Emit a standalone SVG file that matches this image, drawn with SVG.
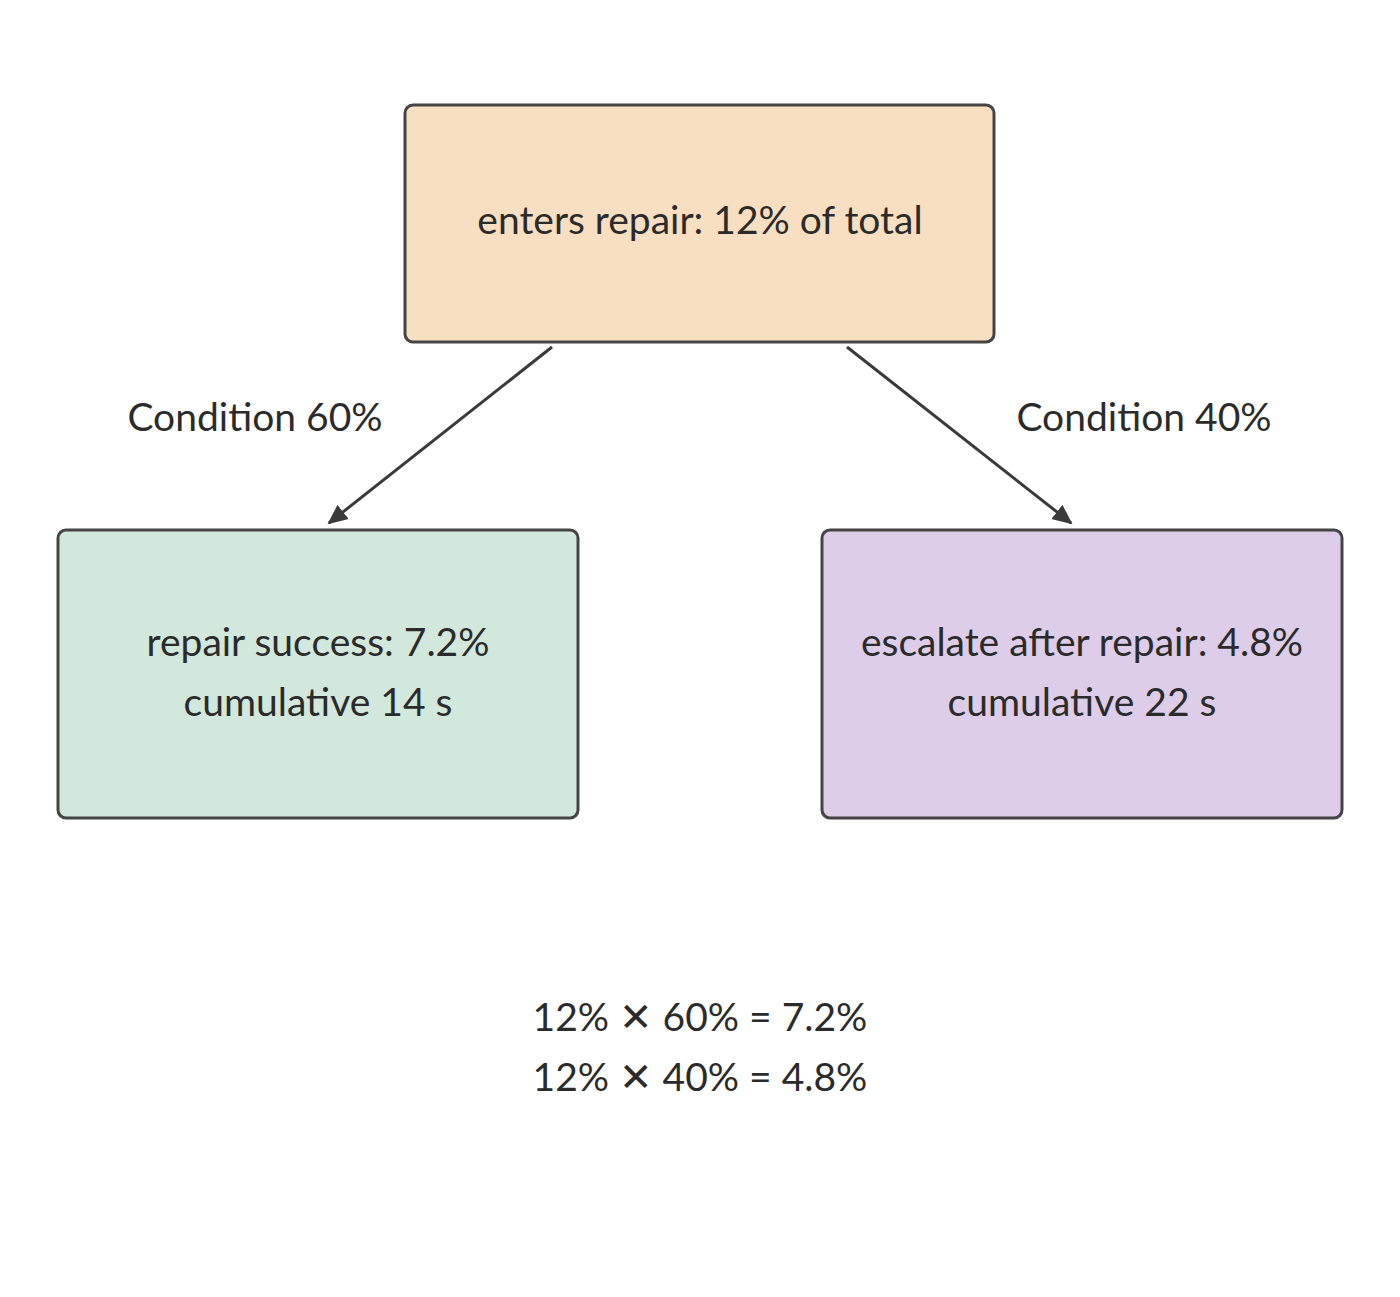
<svg xmlns="http://www.w3.org/2000/svg" width="1400" height="1297" viewBox="0 0 1400 1297">
<style>
text{font-family:Lato,"Noto Sans",sans-serif;font-size:39px;fill:#2b2b2b;text-anchor:middle}
.x{font-family:"DejaVu Sans",sans-serif;font-size:40px}
.box{stroke:#444;stroke-width:3}
.edge{stroke:#3a3a3a;stroke-width:3;fill:none;marker-end:url(#ah)}
</style>
<defs><marker id="ah" viewBox="0 0 20 20" refX="18" refY="10" markerWidth="20" markerHeight="20" orient="auto" markerUnits="userSpaceOnUse"><path d="M0,1 L20,10 L0,19 z" fill="#3a3a3a"/></marker></defs>
<rect width="1400" height="1297" fill="#fff"/>
<g id="connectors">
<line class="edge" x1="552" y1="347" x2="329" y2="523"/>
<line class="edge" x1="847" y1="347" x2="1071" y2="523"/>
<text x="255" y="431">Condition 60%</text>
<text x="1144" y="431">Condition 40%</text>
</g>
<g id="n1"><rect class="box" x="405" y="105" width="589" height="237" rx="8" fill="#f9dfc1"/><text x="700" y="234">enters repair: 12% of total</text></g>
<g id="n2"><rect class="box" x="58" y="530" width="520" height="288" rx="8" fill="#d2e8dc"/><text x="318" y="656">repair success: 7.2%</text><text x="318" y="716">cumulative 14 s</text></g>
<g id="n3"><rect class="box" x="822" y="530" width="520" height="288" rx="8" fill="#ddcde8"/><text x="1082" y="656">escalate after repair: 4.8%</text><text x="1082" y="716">cumulative 22 s</text></g>
<g id="note"><text x="700" y="1031">12% <tspan class="x">✕</tspan> 60% = 7.2%</text><text x="700" y="1091">12% <tspan class="x">✕</tspan> 40% = 4.8%</text></g>
</svg>
